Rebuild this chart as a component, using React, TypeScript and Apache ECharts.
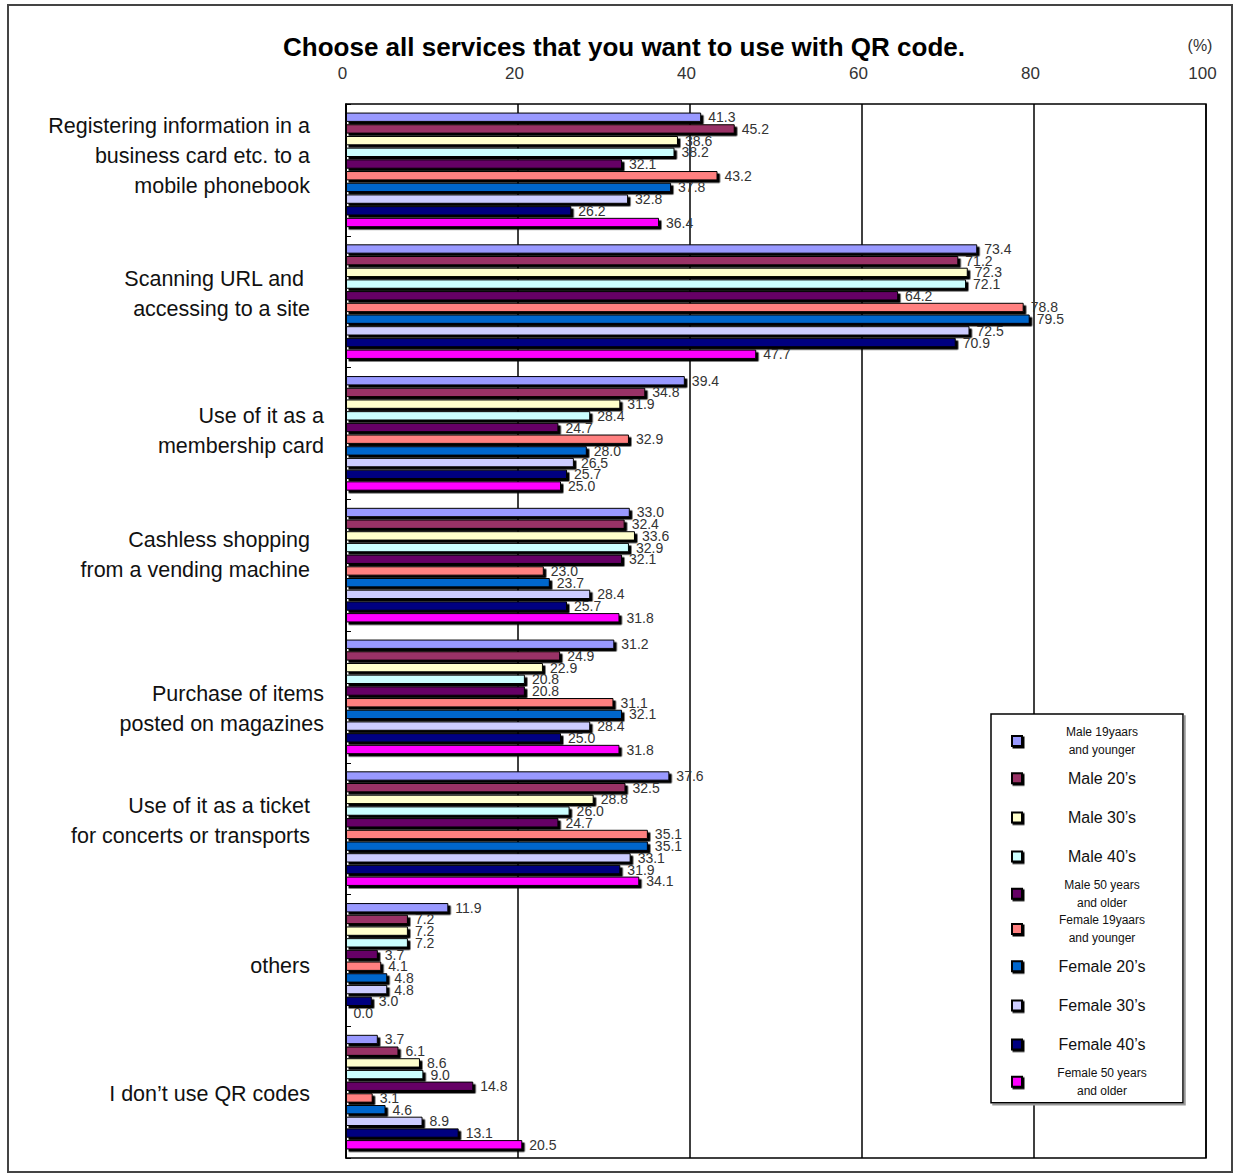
import React, { useEffect, useRef } from "react";
import * as echarts from "echarts";

// Survey: services respondents want to use with QR codes (% of respondents)
const categories = [
  "Registering information in a\nbusiness card etc. to a\nmobile phonebook",
  "Scanning URL and \naccessing to a site",
  "Use of it as a\nmembership card",
  "Cashless shopping\nfrom a vending machine",
  "Purchase of items\nposted on magazines",
  "Use of it as a ticket\nfor concerts or transports",
  "others",
  "I don\u2019t use QR codes",
];

const seriesNames = [
  "Male 19yaars\nand younger",
  "Male 20\u2019s",
  "Male 30\u2019s",
  "Male 40\u2019s",
  "Male 50 years\nand older",
  "Female 19yaars\nand younger",
  "Female 20\u2019s",
  "Female 30\u2019s",
  "Female 40\u2019s",
  "Female 50 years\nand older",
];

const male19 = [41.3, 73.4, 39.4, 33.0, 31.2, 37.6, 11.9, 3.7];
const male20 = [45.2, 71.2, 34.8, 32.4, 24.9, 32.5, 7.2, 6.1];
const male30 = [38.6, 72.3, 31.9, 33.6, 22.9, 28.8, 7.2, 8.6];
const male40 = [38.2, 72.1, 28.4, 32.9, 20.8, 26.0, 7.2, 9.0];
const male50 = [32.1, 64.2, 24.7, 32.1, 20.8, 24.7, 3.7, 14.8];
const female19 = [43.2, 78.8, 32.9, 23.0, 31.1, 35.1, 4.1, 3.1];
const female20 = [37.8, 79.5, 28.0, 23.7, 32.1, 35.1, 4.8, 4.6];
const female30 = [32.8, 72.5, 26.5, 28.4, 28.4, 33.1, 4.8, 8.9];
const female40 = [26.2, 70.9, 25.7, 25.7, 25.0, 31.9, 3.0, 13.1];
const female50 = [36.4, 47.7, 25.0, 31.8, 31.8, 34.1, 0.0, 20.5];

const seriesValues = [
  male19, male20, male30, male40, male50,
  female19, female20, female30, female40, female50,
];

const seriesColors = [
  "#9999FF", "#993366", "#FFFFCC", "#CCFFFF", "#660066",
  "#FF8080", "#0066CC", "#CCCCFF", "#000080", "#FF00FF",
];

const xTicks = [0, 20, 40, 60, 80, 100];

// category labels that sit closer to the axis
const nearAxis = new Set([2, 4]);
// vertical nudge of each category label (px, negative = up)
const labelShift = [-14, -8, -2, -10, 12, -8, 6, 2];

const W = 1235;
const H = 1175;
const NARROW = "'Liberation Sans Narrow', 'Liberation Sans', Arial, sans-serif";

export default function App() {
  const ref = useRef<HTMLDivElement>(null);

  useEffect(() => {
    document.body.style.margin = "0";
    const chart = echarts.init(ref.current!, null, { renderer: "svg" });

    const yData = categories.map((c, i) => {
      const s = labelShift[i];
      return {
        value: c,
        textStyle: {
          padding: s < 0 ? [0, 0, -2 * s, 0] : [2 * s, 0, 0, 0],
        },
      };
    });

    const option: any = {
      animation: false,
      backgroundColor: "#fff",
      textStyle: { fontFamily: "'Liberation Sans', Arial, sans-serif" },
      grid: {
        left: 346,
        right: W - 1206,
        top: 104,
        bottom: H - 1158,
        show: true,
        borderColor: "#000",
        borderWidth: 1.5,
      },
      xAxis: {
        type: "value",
        position: "top",
        min: 0,
        max: 100,
        interval: 20,
        axisLine: { show: false },
        axisTick: { show: false },
        splitLine: { show: true, lineStyle: { color: "#000", width: 1.5 } },
        axisLabel: {
          margin: 22,
          fontSize: 17,
          color: "#333",
          padding: [0, 7, 0, 0],
          fontFamily: NARROW,
          formatter: (v: number) => (xTicks.includes(v) ? String(v) : ""),
        },
      },
      yAxis: {
        type: "category",
        inverse: true,
        data: yData,
        axisLine: { show: true, lineStyle: { color: "#000", width: 1.5 } },
        axisTick: { show: true, inside: true, length: 5, lineStyle: { color: "#000" } },
        splitLine: { show: false },
        axisLabel: {
          margin: 22,
          align: "right",
          formatter: (v: string, idx: number) => {
            const style = nearAxis.has(idx) ? "a" : "b";
            return v
              .split("\n")
              .map((line) => `{${style}|${line}}`)
              .join("\n");
          },
          rich: {
            a: { fontSize: 21.5, lineHeight: 30, color: "#111", align: "right" },
            b: {
              fontSize: 21.5,
              lineHeight: 30,
              color: "#111",
              align: "right",
              padding: [0, 14, 0, 0],
            },
          },
        },
      },
      legend: {
        orient: "vertical",
        left: 991,
        top: 714,
        padding: [12, 6, 6, 20],
        itemGap: 5.2,
        itemWidth: 10,
        itemHeight: 10,
        itemTextGap: 9,
        backgroundColor: "#fff",
        borderColor: "#000",
        borderWidth: 1.5,
        shadowColor: "#999",
        shadowOffsetX: 2,
        shadowOffsetY: 2,
        icon: "rect",
        itemStyle: {
          borderColor: "#000",
          borderWidth: 2,
          shadowColor: "#000",
          shadowOffsetX: 1.5,
          shadowOffsetY: 1.5,
          shadowBlur: 0,
        },
        data: seriesNames,
        formatter: (name: string) => {
          const lines = name.split("\n");
          if (lines.length > 1) {
            return lines.map((l) => `{s|${l}}`).join("\n");
          }
          return `{b|${name}}`;
        },
        textStyle: {
          rich: {
            s: { fontSize: 12, lineHeight: 18, width: 150, align: "center", color: "#111" },
            b: {
              fontSize: 16,
              lineHeight: 18,
              width: 150,
              align: "center",
              color: "#111",
              padding: [9, 0, 9, 0],
            },
          },
        },
      },
      graphic: [
        {
          type: "rect",
          shape: { x: 8, y: 5, width: 1224, height: 1167 },
          style: { fill: "none", stroke: "#444", lineWidth: 2 },
          silent: true,
        },
        {
          type: "text",
          x: 624,
          y: 47,
          style: {
            text: "Choose all services that you want to use with QR code.",
            fontSize: 26,
            fontWeight: "bold",
            fill: "#000",
            align: "center",
            verticalAlign: "middle",
            fontFamily: "'Liberation Sans', Arial, sans-serif",
          },
        },
        {
          type: "text",
          x: 1200,
          y: 45,
          style: {
            text: "(%)",
            fontSize: 16,
            fill: "#333",
            align: "center",
            verticalAlign: "middle",
            fontFamily: NARROW,
          },
        },
      ],
      series: seriesNames.map((name, i) => ({
        name,
        type: "bar",
        data: seriesValues[i],
        barCategoryGap: "13%",
        barGap: "25%",
        itemStyle: {
          color: seriesColors[i],
          borderColor: "#000",
          borderWidth: 1,
          shadowColor: "#000",
          shadowOffsetX: 2.5,
          shadowOffsetY: 2.5,
          shadowBlur: 0,
        },
        label: {
          show: true,
          position: "right",
          distance: 7,
          fontSize: 14,
          color: "#333",
          formatter: (p: any) => Number(p.value).toFixed(1),
        },
      })),
    };

    chart.setOption(option);
    return () => chart.dispose();
  }, []);

  return <div ref={ref} style={{ width: W, height: H }} />;
}
